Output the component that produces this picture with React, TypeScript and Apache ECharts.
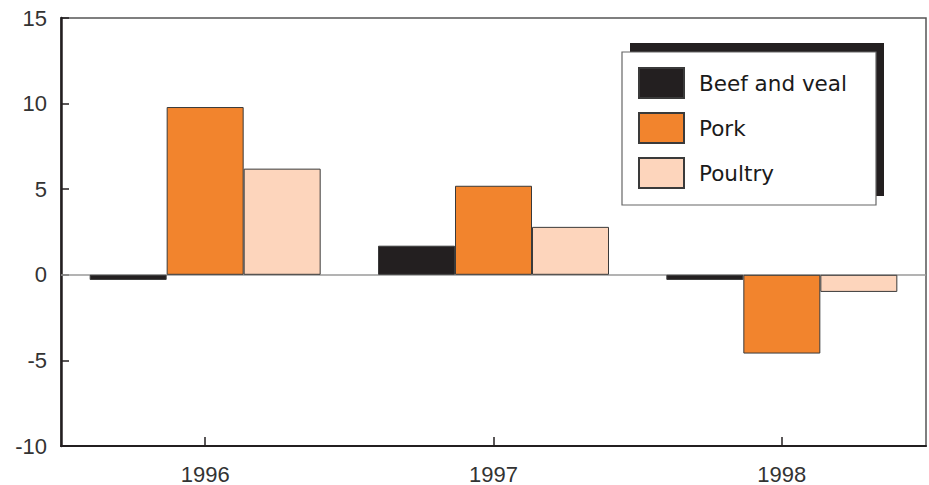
import React, { useEffect, useRef } from "react";
import * as echarts from "echarts";

const categories = ["1996", "1997", "1998"];
const beefAndVeal = [-0.3, 1.7, -0.3];
const pork = [9.8, 5.2, -4.6];
const poultry = [6.2, 2.8, -1.0];
const seriesNames = ["Beef and veal", "Pork", "Poultry"];
const seriesColors = ["#231f20", "#f2842d", "#fdd5bc"];

const AXIS_FONT = "'Liberation Sans', Arial, sans-serif";
const LEGEND_FONT = "'DejaVu Sans', sans-serif";

export default function App() {
  const ref = useRef<HTMLDivElement>(null);
  useEffect(() => {
    if (!ref.current) return;
    const chart = echarts.init(ref.current, undefined, { renderer: "svg" });
    const values = [beefAndVeal, pork, poultry];
    const series: any[] = values.map((data, i) => ({
      name: seriesNames[i],
      type: "bar",
      data,
      barWidth: 77,
      barGap: "0%",
      itemStyle: { color: seriesColors[i], borderColor: "#3a3a3a", borderWidth: 1 },
      z: 3,
    }));
    series[0].markLine = {
      silent: true,
      symbol: "none",
      label: { show: false },
      lineStyle: { color: "#9a9a9a", width: 1.5, type: "solid" },
      data: [{ yAxis: 0 }],
      z: 1,
    };
    chart.setOption({
      animation: false,
      backgroundColor: "#ffffff",
      grid: {
        left: 61,
        right: 3,
        top: 18,
        bottom: 39,
        show: true,
        borderColor: "#555555",
        borderWidth: 1.5,
        backgroundColor: "transparent",
      },
      xAxis: {
        type: "category",
        data: categories,
        position: "bottom",
        axisLine: { onZero: false, lineStyle: { color: "#231f20", width: 2 } },
        axisTick: { show: true, inside: true, length: 9, alignWithLabel: true, lineStyle: { color: "#231f20", width: 1.5 } },
        axisLabel: { fontSize: 22, color: "#333333", margin: 17, fontFamily: AXIS_FONT },
      },
      yAxis: {
        type: "value",
        min: -10,
        max: 15,
        interval: 5,
        axisLine: { show: true, lineStyle: { color: "#231f20", width: 2.5 } },
        axisTick: { show: true, inside: true, length: 8, lineStyle: { color: "#231f20", width: 1.5 } },
        splitLine: { show: false },
        axisLabel: { fontSize: 22, color: "#333333", margin: 14, fontFamily: AXIS_FONT },
      },
      legend: {
        orient: "vertical",
        left: 638,
        top: 67,
        itemWidth: 45,
        itemHeight: 30,
        itemGap: 13,
        padding: 0,
        icon: "rect",
        z: 10,
        data: seriesNames,
        textStyle: {
          fontSize: 21.5,
          fontWeight: "normal",
          color: "#1a1a1a",
          fontFamily: LEGEND_FONT,
          lineHeight: 30,
          padding: [0, 0, 0, 10],
        },
      },
      graphic: [
        {
          type: "rect",
          z: 8,
          shape: { x: 630, y: 43, width: 254, height: 153 },
          style: { fill: "#231f20" },
        },
        {
          type: "rect",
          z: 9,
          shape: { x: 622, y: 52, width: 254, height: 153 },
          style: { fill: "#ffffff", stroke: "#666666", lineWidth: 1.2 },
        },
      ],
      series,
    });
    return () => chart.dispose();
  }, []);
  return <div ref={ref} style={{ width: 929, height: 485, position: "absolute", left: 0, top: 0 }} />;
}
